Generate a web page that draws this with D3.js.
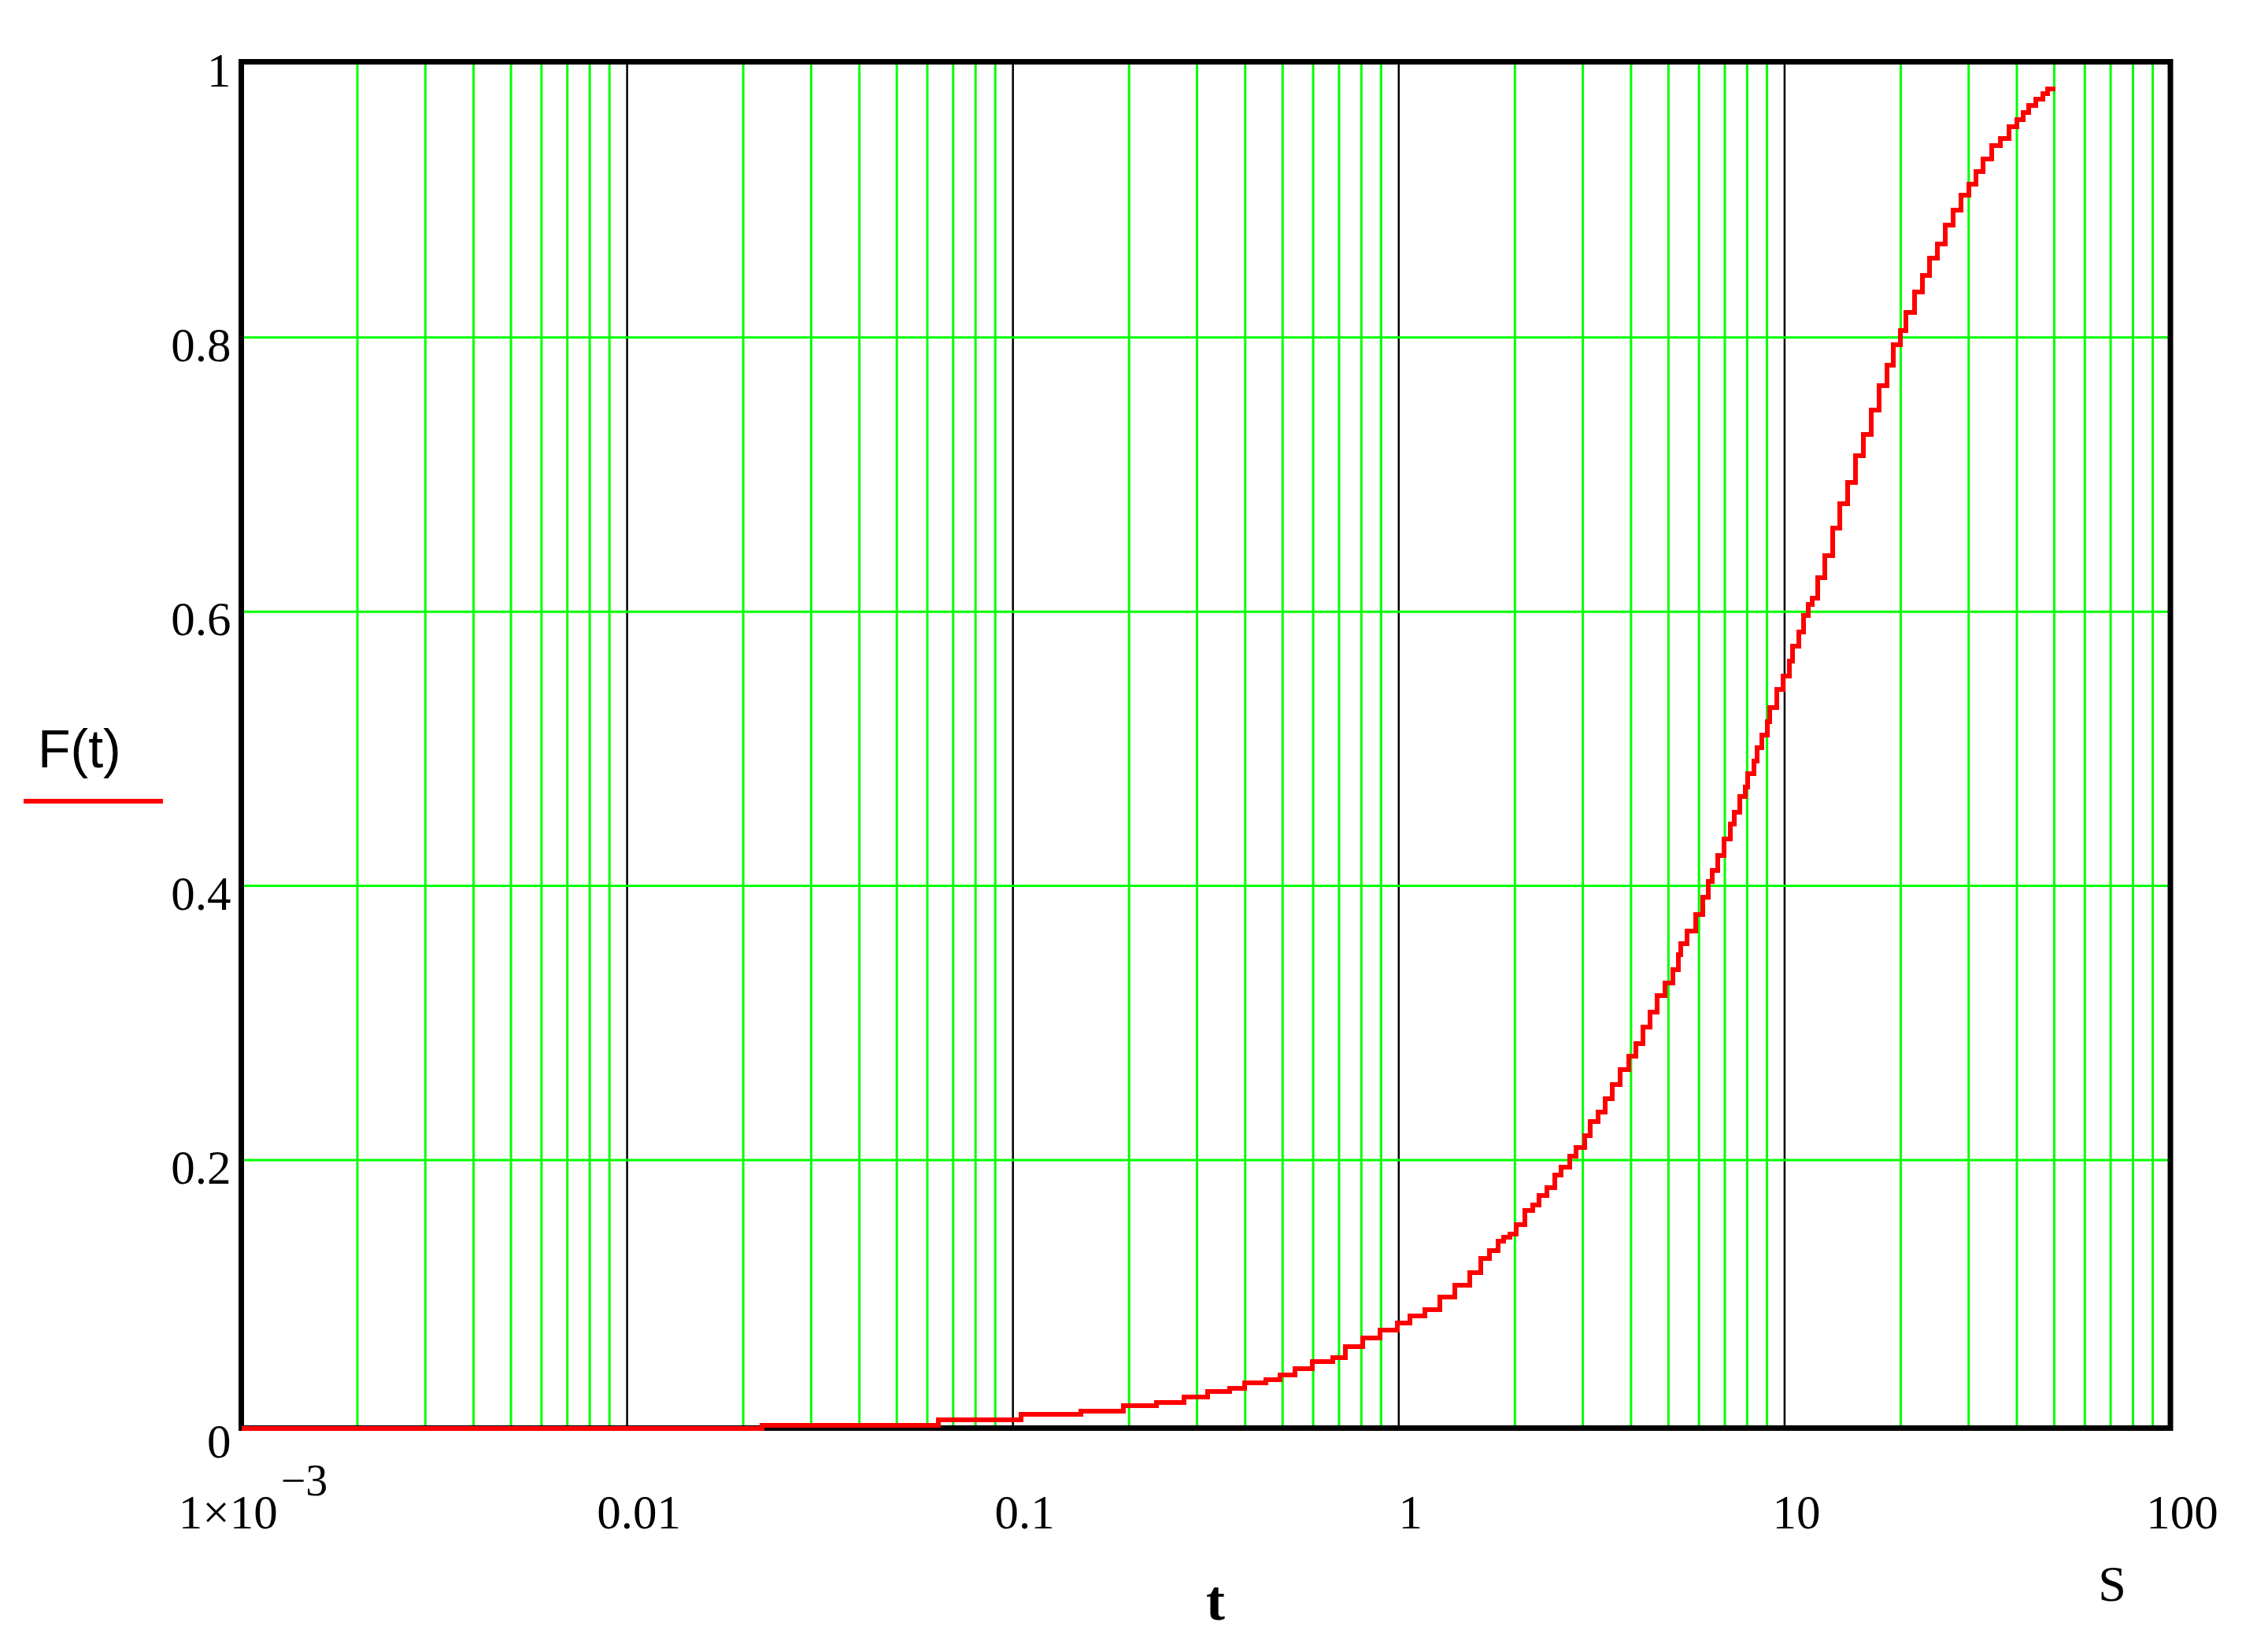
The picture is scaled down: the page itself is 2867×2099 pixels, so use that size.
<!DOCTYPE html>
<html>
<head>
<meta charset="utf-8">
<script src="https://cdn.jsdelivr.net/npm/d3@7"></script>
<style>
  body { margin: 0; background: #fff; }
  svg { display: block; }
</style>
</head>
<body>
<div id="chart"></div>
<script>
// t in seconds, F(t) (value holds until next t)
const tValues = [
  0.001, 0.0224, 0.064, 0.105, 0.15, 0.193, 0.235, 0.277, 0.319, 0.365,
  0.399, 0.453, 0.492, 0.538, 0.598, 0.675, 0.727, 0.806, 0.895, 0.993,
  1.07, 1.17, 1.28, 1.4, 1.53, 1.63, 1.72, 1.81, 1.87, 1.94,
  2.02, 2.12, 2.22, 2.31, 2.42, 2.54, 2.64, 2.77, 2.88, 3.04,
  3.13, 3.29, 3.42, 3.58, 3.75, 3.94, 4.12, 4.29, 4.49, 4.67,
  4.9, 5.13, 5.3, 5.38, 5.6, 5.87, 6.15, 6.34, 6.49, 6.7,
  6.97, 7.25, 7.42, 7.65, 7.9, 8.02, 8.34, 8.48, 8.75, 9.02,
  9.17, 9.53, 9.91, 10.3, 10.5, 10.9, 11.2, 11.5, 11.8, 12.2,
  12.7, 13.3, 13.9, 14.6, 15.3, 16.0, 16.8, 17.6, 18.4, 19.1,
  20, 20.6, 21.7, 22.8, 23.7, 24.9, 26.1, 27.4, 28.7, 30,
  31.4, 32.7, 34.5, 36.3, 38.1, 40, 41.5, 43.0, 44.8, 46.7,
  48.0, 50.3
];
const fValues = [
  0, 0.0067, 0.0107, 0.0148, 0.017, 0.0211, 0.023, 0.0272, 0.031, 0.0334,
  0.0374, 0.0397, 0.0435, 0.048, 0.053, 0.056, 0.064, 0.07, 0.076, 0.081,
  0.0865, 0.091, 0.1, 0.1086, 0.118, 0.128, 0.134, 0.141, 0.144, 0.146,
  0.153, 0.163, 0.167, 0.174, 0.18, 0.189, 0.195, 0.203, 0.209, 0.218,
  0.228, 0.235, 0.245, 0.255, 0.266, 0.276, 0.285, 0.297, 0.308, 0.32,
  0.329, 0.339, 0.35, 0.358, 0.367, 0.379, 0.392, 0.403, 0.411, 0.422,
  0.434, 0.445, 0.454, 0.465, 0.472, 0.482, 0.491, 0.501, 0.51, 0.52,
  0.53, 0.543, 0.553, 0.564, 0.575, 0.585, 0.597, 0.605, 0.61, 0.625,
  0.641, 0.661, 0.679, 0.694, 0.714, 0.729, 0.747, 0.765, 0.78, 0.795,
  0.805, 0.818, 0.833, 0.845, 0.858, 0.868, 0.882, 0.893, 0.904, 0.912,
  0.921, 0.93, 0.94, 0.945, 0.954, 0.959, 0.964, 0.969, 0.974, 0.978,
  0.981, 0.981
];

const xTickValues = [0.001, 0.01, 0.1, 1, 10, 100];
const xTickLabels = ["1×10^−3", "0.01", "0.1", "1", "10", "100"];
const yTickValues = [0, 0.2, 0.4, 0.6, 0.8, 1];
const yTickLabels = ["0", "0.2", "0.4", "0.6", "0.8", "1"];

const yLabel = "F(t)";
const xLabel = "t";
const unitLabel = "S";

const width = 2867;
const height = 2099;
// plot frame (border centre lines)
const frame = { left: 306.5, right: 2757, top: 78.5, bottom: 1814.5 };

const serif = "'Liberation Serif', 'Times New Roman', serif";
const sans = "'Liberation Sans', Arial, sans-serif";

const data = tValues.map((t, i) => ({ t, f: fValues[i] }));

const x = d3.scaleLog()
  .domain([xTickValues[0], xTickValues[xTickValues.length - 1]])
  .range([frame.left, frame.right]);
// the value axis sits slightly inside the frame, as in the original plot
const y = d3.scaleLinear()
  .domain([0, 1])
  .range([1822.4, 80.4]);

const svg = d3.select("#chart").append("svg")
  .attr("width", width)
  .attr("height", height)
  .attr("viewBox", [0, 0, width, height]);

const isDecade = (d) => Number.isInteger(+Math.log10(d).toFixed(6));

// vertical grid: green minor lines, black decade lines
svg.append("g")
  .selectAll("line")
  .data(x.ticks().filter((d) => d > x.domain()[0] && d < x.domain()[1]))
  .join("line")
  .attr("x1", (d) => x(d))
  .attr("x2", (d) => x(d))
  .attr("y1", frame.top)
  .attr("y2", frame.bottom)
  .attr("stroke", (d) => (isDecade(d) ? "#000" : "#00ff00"))
  .attr("stroke-width", (d) => (isDecade(d) ? 2.5 : 3));

svg.append("g")
  .selectAll("line")
  .data(yTickValues.filter((d) => d > 0 && d < 1))
  .join("line")
  .attr("x1", frame.left)
  .attr("x2", frame.right)
  .attr("y1", (d) => y(d))
  .attr("y2", (d) => y(d))
  .attr("stroke", "#00ff00")
  .attr("stroke-width", 3);

// frame
svg.append("rect")
  .attr("x", frame.left)
  .attr("y", frame.top)
  .attr("width", frame.right - frame.left)
  .attr("height", frame.bottom - frame.top)
  .attr("fill", "none")
  .attr("stroke", "#000")
  .attr("stroke-width", 7);

// curve
const line = d3.line()
  .x((d) => x(d.t))
  .y((d) => Math.min(y(d.f), frame.bottom))
  .curve(d3.curveStepAfter);

svg.append("path")
  .datum(data)
  .attr("d", line)
  .attr("fill", "none")
  .attr("stroke", "#ff0000")
  .attr("stroke-width", 6)
  .attr("shape-rendering", "crispEdges");

// y tick labels
svg.append("g")
  .selectAll("text")
  .data(yTickValues)
  .join("text")
  .attr("x", frame.left - 13)
  .attr("y", (d) => y(d) + 30)
  .attr("text-anchor", "end")
  .attr("font-family", serif)
  .attr("font-size", 61)
  .text((d, i) => yTickLabels[i]);

// x tick labels
const xText = svg.append("g")
  .selectAll("text")
  .data(xTickValues)
  .join("text")
  .attr("x", (d) => x(d) + 15)
  .attr("y", frame.bottom + 127)
  .attr("text-anchor", "middle")
  .attr("font-family", serif)
  .attr("font-size", 61);

xText.each(function (d, i) {
  const [base, exp] = xTickLabels[i].split("^");
  const el = d3.select(this);
  el.append("tspan").text(base);
  if (exp) {
    el.append("tspan")
      .attr("dy", -42)
      .attr("dx", 4)
      .attr("font-size", 56)
      .text(exp);
  }
});

// axis titles
svg.append("text")
  .attr("x", 48)
  .attr("y", 975)
  .attr("font-family", sans)
  .attr("font-size", 68)
  .text(yLabel);

svg.append("line")
  .attr("x1", 30)
  .attr("x2", 207)
  .attr("y1", 1018)
  .attr("y2", 1018)
  .attr("stroke", "#ff0000")
  .attr("stroke-width", 6);

svg.append("text")
  .attr("x", 1544)
  .attr("y", 2058)
  .attr("text-anchor", "middle")
  .attr("font-family", serif)
  .attr("font-weight", "bold")
  .attr("font-size", 72)
  .text(xLabel);

svg.append("text")
  .attr("x", 2683)
  .attr("y", 2034)
  .attr("text-anchor", "middle")
  .attr("font-family", serif)
  .attr("font-size", 64)
  .text(unitLabel);
</script>
</body>
</html>
